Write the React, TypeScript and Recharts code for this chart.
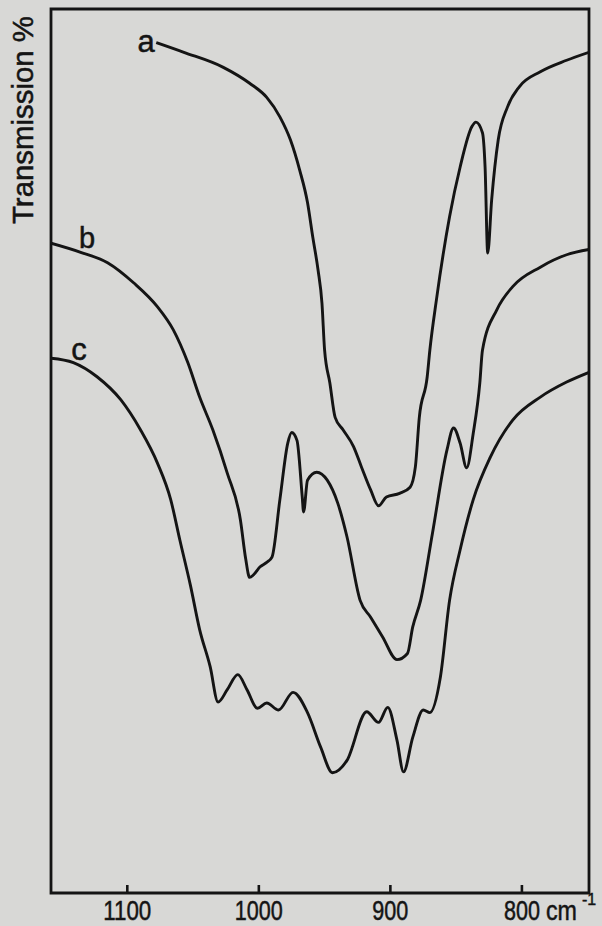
import React from 'react';
import { LineChart, Line, XAxis, YAxis, ReferenceArea } from 'recharts';

// wavenumbers (cm-1) and transmission (%), one pair of arrays per curve
const waveA = [1078, 1057, 1027, 1007, 994, 984, 976, 969, 963, 959, 955, 952, 950, 946, 942, 936, 928, 922, 915, 909, 903, 893, 885, 881, 878, 872, 870, 865, 855, 847, 838, 835, 830, 828, 826, 823, 818, 811, 802, 786, 766, 749];
const transA = [96.2, 95.1, 93.4, 91.6, 90.0, 87.8, 85.2, 81.8, 78.1, 74.2, 70.5, 66.7, 61.4, 57.7, 53.8, 52.4, 50.5, 48.2, 45.6, 43.8, 44.8, 45.2, 45.9, 48.2, 53.8, 58.4, 61.4, 67.1, 76.5, 82.1, 86.7, 87.2, 86.0, 82.1, 72.4, 78.4, 85.2, 88.9, 91.2, 92.9, 94.2, 95.1];

const waveB = [1158, 1136, 1115, 1095, 1077, 1065, 1054, 1045, 1035, 1024, 1014, 1010, 1007, 1004, 999, 994, 990, 984, 978, 975, 971, 967, 966, 963, 956, 948, 940, 933, 923, 915, 906, 895, 887, 883, 877, 868, 857, 852, 847, 842, 837, 832, 830, 819, 807, 786, 766, 749];
const transB = [73.5, 72.5, 71.3, 69.0, 66.3, 63.7, 60.0, 56.1, 52.4, 47.5, 42.2, 37.8, 35.7, 36.0, 36.9, 37.4, 38.0, 44.5, 50.9, 52.1, 51.2, 44.8, 43.1, 46.7, 47.6, 46.7, 44.1, 40.3, 33.1, 31.2, 29.0, 26.4, 27.1, 30.1, 33.1, 40.7, 50.1, 52.6, 50.9, 48.1, 52.0, 57.7, 61.4, 66.0, 68.6, 70.8, 72.2, 72.8];

const waveC = [1158, 1141, 1123, 1105, 1090, 1077, 1067, 1060, 1052, 1045, 1037, 1031, 1024, 1016, 1009, 1001, 994, 985, 974, 963, 953, 944, 933, 918, 909, 902, 895, 890, 883, 875, 870, 862, 855, 847, 837, 824, 807, 786, 766, 749];
const transC = [60.5, 60.0, 58.4, 55.8, 52.4, 48.6, 44.5, 39.9, 34.8, 29.8, 25.6, 21.6, 23.0, 24.7, 23.0, 20.9, 21.5, 20.7, 22.7, 20.4, 16.5, 13.6, 15.0, 20.5, 19.3, 21.0, 17.3, 13.7, 17.6, 20.7, 20.4, 24.4, 33.1, 38.8, 44.5, 49.3, 53.5, 56.1, 57.8, 58.9];

const xTicks = [1100, 1000, 900, 800];

const toPoints = (w: number[], t: number[]) => w.map((wn, i) => ({ wn, t: t[i] }));

const ink = '#141414';
const paper = '#d8d8d6';
const font = '"Liberation Sans", Arial, sans-serif';

function WaveTick(props: any) {
  const { x, y, payload } = props;
  const label = String(payload.value);
  return (
    <g>
      <line x1={x} x2={x} y1={y} y2={y - 8} stroke={ink} strokeWidth={2.6} />
      <text x={x} y={y + 27} textAnchor="middle" fontFamily={font} fontSize={27} fill={ink}
        stroke={ink} strokeWidth={0.5} textLength={label.length * 12} lengthAdjust="spacingAndGlyphs">
        {label}
      </text>
      {payload.value === 800 && (
        <g>
          <text x={x + 24} y={y + 27} fontFamily={font} fontSize={27} fill={ink} stroke={ink} strokeWidth={0.5}
            textLength={31} lengthAdjust="spacingAndGlyphs">cm</text>
          <text x={x + 60} y={y + 12} fontFamily={font} fontSize={16} fill={ink} stroke={ink} strokeWidth={0.4}>-1</text>
        </g>
      )}
    </g>
  );
}

export default function App() {
  const line = { type: 'monotone' as const, dataKey: 't', stroke: ink, strokeWidth: 2.9, dot: false, isAnimationActive: false };
  return (
    <div style={{ position: 'absolute', left: 0, top: 0, width: 602, height: 926, background: paper }}>
      <LineChart width={602} height={926} margin={{ top: 9, right: 13, left: 51, bottom: 0 }}>
        <XAxis type="number" dataKey="wn" domain={[749, 1158]} reversed allowDataOverflow ticks={xTicks}
          interval={0} height={33} axisLine={false} tickLine={false} tickSize={0} tickMargin={0}
          tick={(p: any) => <WaveTick {...p} />} />
        <YAxis type="number" domain={[0, 100]} hide />
        <ReferenceArea x1={1158} x2={749} y1={0} y2={100} fill="none" stroke={ink} strokeWidth={2.8} ifOverflow="visible" />
        <Line data={toPoints(waveA, transA)} {...line} />
        <Line data={toPoints(waveB, transB)} {...line} />
        <Line data={toPoints(waveC, transC)} {...line} />
      </LineChart>
      <svg width={602} height={926} style={{ position: 'absolute', left: 0, top: 0, pointerEvents: 'none' }}>
        <text transform="translate(33,120) rotate(-90)" textAnchor="middle" fontFamily={font} fontSize={29}
          fill={ink} stroke={ink} strokeWidth={0.5} textLength={208} lengthAdjust="spacingAndGlyphs">Transmission %</text>
        <text x={146} y={52} textAnchor="middle" fontFamily={font} fontSize={31} fill={ink} stroke={ink} strokeWidth={0.5}>a</text>
        <text x={87} y={248} textAnchor="middle" fontFamily={font} fontSize={29} fill={ink} stroke={ink} strokeWidth={0.5}>b</text>
        <text x={79} y={360} textAnchor="middle" fontFamily={font} fontSize={31} fill={ink} stroke={ink} strokeWidth={0.5}>c</text>
      </svg>
    </div>
  );
}
